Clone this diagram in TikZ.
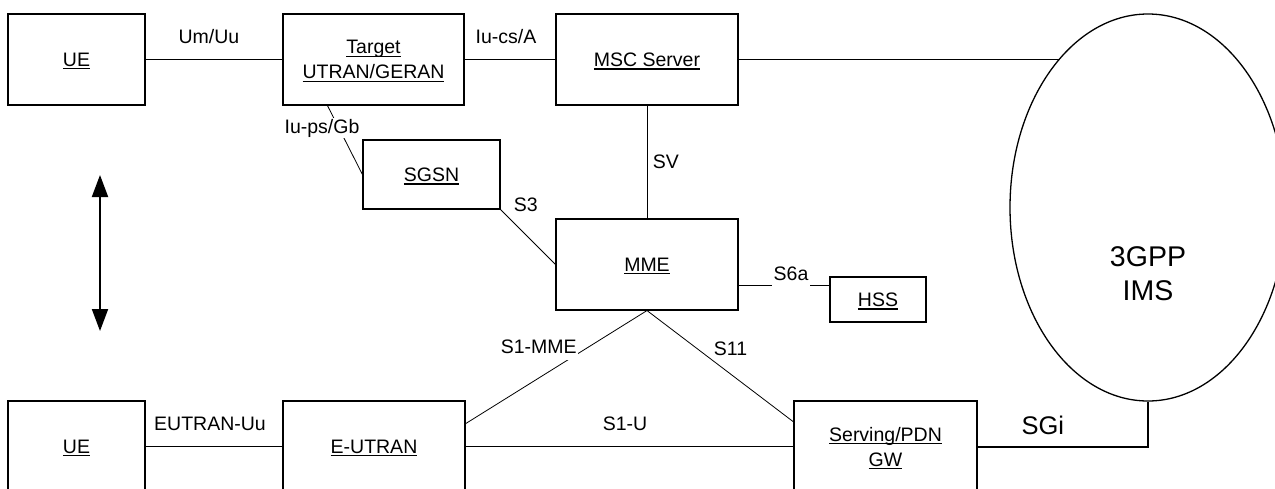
\documentclass[tikz,border=0pt]{standalone}
\usepackage{fontspec}
\setmainfont{Liberation Sans}
\usetikzlibrary{shapes.geometric,arrows.meta}
\newcommand\lblfont{\fontsize{19.5}{25}\selectfont}
\newsavebox\ulbox
\newcommand\ulbl[1]{\sbox\ulbox{#1}\rlap{\smash{\rule[-3.2pt]{\wd\ulbox}{1.4pt}}}\usebox\ulbox}
\begin{document}
\begin{tikzpicture}[x=1pt,y=-1pt,
	box/.style={draw,line width=1.1pt,inner sep=0pt,minimum height=91,align=center,text depth=0pt,font=\lblfont},
	link/.style={line width=0.8pt},
	lbl/.style={inner sep=1pt,font=\lblfont}]
	\useasboundingbox (0,0) rectangle (1275,488);
	\clip (0,0) rectangle (1275,488);
	% UTRAN/GERAN side
	\node[box,minimum width=137] (ueup) at (76.5,59.5) {\ulbl{UE}};
	\node[box,minimum width=181] (target) at (373.5,59.5) {\ulbl{Target}\\\ulbl{UTRAN/GERAN}};
	\node[box,minimum width=182] (msc) at (647,59.5) {\ulbl{MSC Server}};
	\node[box,minimum width=137,minimum height=69] (sgsn) at (431.5,174.5) {\ulbl{SGSN}};
	% EPS side
	\node[box,minimum width=182] (mme) at (647,264.5) {\ulbl{MME}};
	\node[box,minimum width=96,minimum height=45] (hss) at (878,299.5) {\ulbl{HSS}};
	\node[box,minimum width=137] (uedown) at (76.5,446.5) {\ulbl{UE}};
	\node[box,minimum width=182] (eutran) at (374,446.5) {\ulbl{E-UTRAN}};
	\node[box,minimum width=183] (gw) at (885.5,446.5) {\ulbl{Serving/PDN}\\\ulbl{GW}};
	\node[draw,ellipse,line width=1.3pt,minimum width=276,minimum height=387,inner sep=0pt] (ims) at (1148,207.5) {};
	\node[align=center,text depth=0pt,font=\fontsize{28.5}{34}\selectfont] (imsname) at (1148,274) {3GPP\\IMS};
	% interfaces
	\draw[link] (ueup) -- node[lbl,anchor=base,xshift=-5,yshift=16]{Um/Uu} (target);
	\draw[link] (target) -- node[lbl,anchor=base,xshift=-4,yshift=16.5]{Iu-cs/A} (msc);
	\draw[link] (msc.east) -- (msc.east -| ims.121);
	\draw[link] (target.225) -- node[lbl,fill=white,pos=0.33,xshift=-17]{Iu-ps/Gb} (sgsn.west);
	\draw[link] (sgsn.south east) -- node[lbl,pos=0,anchor=west,xshift=12,yshift=5]{S3} (mme.west);
	\draw[link] (msc) -- node[lbl,right,xshift=4.5]{SV} (mme);
	\draw[link] (mme.-13.8) -- node[lbl,fill=white,inner xsep=2,inner ysep=7,xshift=7,yshift=12]{S6a} (mme.-13.8 -| hss.west);
	\draw[link] (mme.south) -- node[lbl,fill=white,pos=0.38,anchor=base east,text depth=5pt]{S1-MME} (eutran.14.6);
	\draw[link] (mme.south) -- node[lbl,pos=0.4,anchor=base west,xshift=7]{S11} (gw.165.4);
	\draw[link] (uedown) -- node[lbl,anchor=base,xshift=-4,yshift=16.5]{EUTRAN-Uu} (eutran);
	\draw[link] (eutran) -- node[lbl,anchor=base,xshift=-4.5,yshift=16]{S1-U} (gw);
	\draw[line width=2pt] (gw.east) -| node[lbl,pos=0.25,anchor=base,xshift=-20,yshift=12.5,font=\fontsize{25.5}{30}\selectfont]{SGi} (ims.south);
	% handover arrow
	\coordinate (houp) at (100,175);
	\coordinate (hodown) at (100,331);
	\draw[line width=2pt,{Triangle[length=22pt,width=16pt]}-{Triangle[length=22pt,width=16pt]}] (houp) -- (hodown);
\end{tikzpicture}
\end{document}
